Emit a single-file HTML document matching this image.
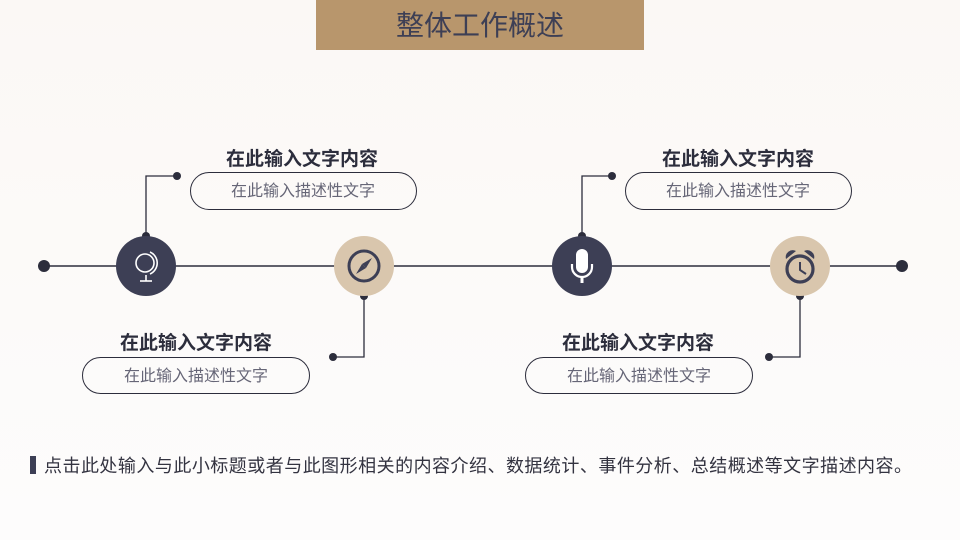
<!DOCTYPE html>
<html><head><meta charset="utf-8"><style>
html,body{margin:0;padding:0;background:#fcfafa}
body{width:960px;height:540px;overflow:hidden;background:linear-gradient(#fbf8f5,#fdfcfc)}
svg{display:block}
svg text{font-family:"Liberation Sans","Noto Sans CJK SC",sans-serif}
</style></head><body>
<svg width="960" height="540" viewBox="0 0 960 540" xmlns="http://www.w3.org/2000/svg">
<rect x="316" y="0" width="328" height="50" fill="#b8966c"/>
<text x="480" y="35" font-size="28" fill="#3d3f55" text-anchor="middle">整体工作概述</text>

<line x1="44" y1="266" x2="902" y2="266" stroke="#2c2d3c" stroke-width="1.5"/>
<circle cx="44" cy="266" r="6" fill="#2c2d3c"/>
<circle cx="902" cy="266" r="6" fill="#2c2d3c"/>

<g fill="none" stroke="#2c2d3c" stroke-width="1.3">
<polyline points="146,236 146,176 177,176"/>
<polyline points="364,296 364,357 333,357"/>
<polyline points="582,236 582,176 612,176"/>
<polyline points="800,296 800,357 769,357"/>
</g>
<g fill="#2c2d3c">
<circle cx="177" cy="176" r="4"/><circle cx="146" cy="236" r="4"/>
<circle cx="333" cy="357" r="4"/><circle cx="364" cy="296" r="4"/>
<circle cx="612" cy="176" r="4"/><circle cx="582" cy="236" r="4"/>
<circle cx="769" cy="357" r="4"/><circle cx="800" cy="296" r="4"/>
</g>

<circle cx="146" cy="266" r="30" fill="#3d3f55"/>
<circle cx="364" cy="266" r="30" fill="#d9c6ad"/>
<circle cx="582" cy="266" r="30" fill="#3d3f55"/>
<circle cx="800" cy="266" r="30" fill="#d9c6ad"/>

<g fill="none" stroke="#fff" stroke-width="1.6">
<circle cx="145" cy="263" r="9"/>
<path d="M150 252 A12 12 0 0 1 150 274"/>
<line x1="146" y1="275" x2="146" y2="281"/><line x1="140" y1="281" x2="152" y2="281"/>
</g>
<g>
<circle cx="364" cy="266" r="15" fill="none" stroke="#3d3f55" stroke-width="3"/>
<polygon points="372,258 366,268 362,264" fill="#3d3f55"/>
<polygon points="356,274 362,264 366,268" fill="#3d3f55"/>
</g>
<g>
<rect x="576" y="249" width="12" height="24" rx="6" fill="#fff"/>
<path d="M572 264 v3 a10 10 0 0 0 20 0 v-3" fill="none" stroke="#fff" stroke-width="2.2"/>
<rect x="580.5" y="276" width="3" height="7" fill="#fff"/>
</g>
<g>
<circle cx="800" cy="269" r="13" fill="none" stroke="#3d3f55" stroke-width="3.2"/>
<path d="M786 259 a7 7 0 0 1 10 -8 z" fill="#3d3f55"/>
<path d="M814 259 a7 7 0 0 0 -10 -8 z" fill="#3d3f55"/>
<polyline points="800,262 800,270 806,274" fill="none" stroke="#3d3f55" stroke-width="2"/>
</g>

<g fill="none" stroke="#2c2d3c" stroke-width="1">
<rect x="190.5" y="172.5" width="226" height="37" rx="18.5"/>
<rect x="82.5" y="357.5" width="227" height="36" rx="18"/>
<rect x="625.5" y="172.5" width="226" height="37" rx="18.5"/>
<rect x="525.5" y="357.5" width="227" height="36" rx="18"/>
</g>
<g font-size="19" font-weight="bold" fill="#2c2d3c" text-anchor="middle">
<text x="302" y="165">在此输入文字内容</text>
<text x="196" y="349">在此输入文字内容</text>
<text x="738" y="165">在此输入文字内容</text>
<text x="638" y="349">在此输入文字内容</text>
</g>
<g font-size="16" fill="#666677" text-anchor="middle">
<text x="303" y="196">在此输入描述性文字</text>
<text x="196" y="381">在此输入描述性文字</text>
<text x="738" y="196">在此输入描述性文字</text>
<text x="639" y="381">在此输入描述性文字</text>
</g>

<rect x="30" y="456" width="6" height="18" fill="#3d3f55"/>
<text x="44" y="472" font-size="18" fill="#333340" textLength="868" lengthAdjust="spacing">点击此处输入与此小标题或者与此图形相关的内容介绍、数据统计、事件分析、总结概述等文字描述内容。</text>
</svg>
</body></html>
